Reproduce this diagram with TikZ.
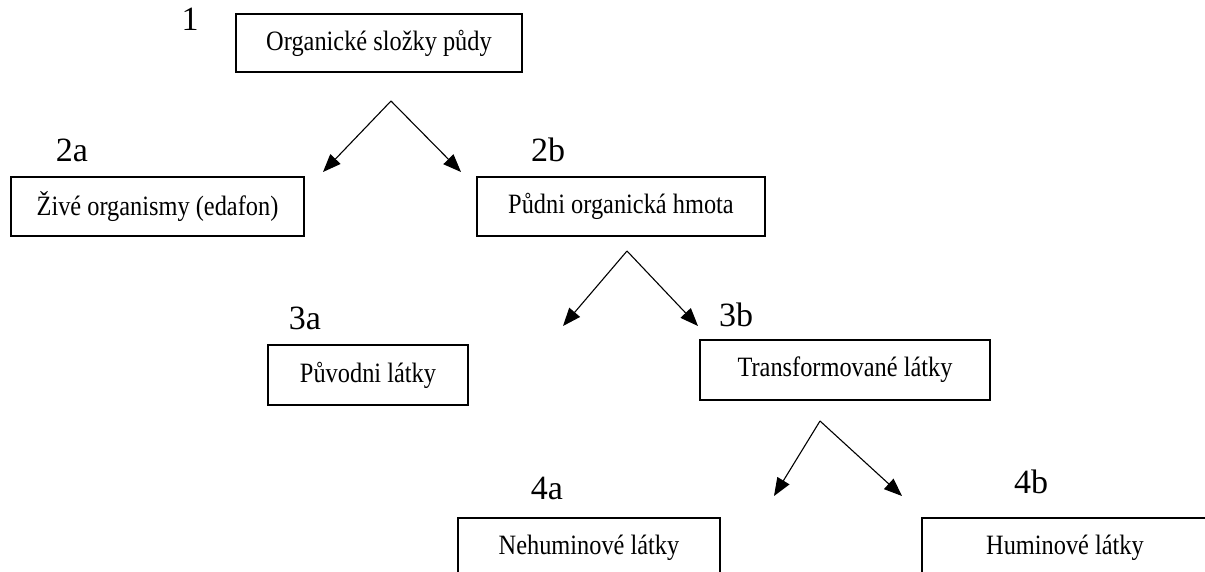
\documentclass[tikz,border=0pt]{standalone}
\usepackage{fontspec}
\usepackage{graphicx}
\setmainfont{Liberation Serif}
\usetikzlibrary{arrows.meta}
\newcommand{\cond}[1]{\scalebox{0.87}[1]{#1}}
\tikzset{
  box/.style={draw=black, line width=1.8pt, rectangle, inner sep=0pt, font=\fontsize{28}{32}\selectfont},
  lbl/.style={font=\fontsize{34}{38}\selectfont, inner sep=0pt},
  arr/.style={line width=1.1pt, -{Triangle[length=18pt,width=14pt]}}
}
\begin{document}
\begin{tikzpicture}[x=1pt,y=-1pt]
\useasboundingbox (0,0) rectangle (1205,571);
\clip (0,0) rectangle (1205,571);
% boxes
\node[box, minimum width=286pt, minimum height=58pt] (b1) at (379,43) {\cond{Organické složky půdy}};
\node[box, minimum width=293pt, minimum height=59pt] (b2a) at (157.5,206.5) {\cond{Živé organismy (edafon)}};
\node[box, minimum width=288pt, minimum height=59pt] (b2b) at (621,206.5) {\cond{Půdni organická hmota}};
\node[box, minimum width=200pt, minimum height=60pt] (b3a) at (368,375) {\cond{Původni látky}};
\node[box, minimum width=290pt, minimum height=60pt] (b3b) at (845,370) {\cond{Transformované látky}};
\node[box, minimum width=262pt, minimum height=60pt] (b4a) at (589,548) {\cond{Nehuminové látky}};
\node[box, minimum width=286pt, minimum height=60pt] (b4b) at (1065,548) {\cond{Huminové látky}};
% labels
\node[lbl] (l1) at (190,19) {1};
\node[lbl] (l2a) at (72,150) {2a};
\node[lbl] (l2b) at (548,150) {2b};
\node[lbl] (l3a) at (305,318) {3a};
\node[lbl] (l3b) at (736,315) {3b};
\node[lbl] (l4a) at (547,488) {4a};
\node[lbl] (l4b) at (1031,482) {4b};
% connector points
\coordinate (a1) at (391,101);
\coordinate (t2a) at (323,172);
\coordinate (t2b) at (461,172);
\coordinate (a2) at (627,251);
\coordinate (t3a) at (563,326);
\coordinate (t3b) at (698,326);
\coordinate (a3) at (820,421);
\coordinate (t4a) at (774,496);
\coordinate (t4b) at (902,496);
\draw[arr] (a1) -- (t2a);
\draw[arr] (a1) -- (t2b);
\draw[arr] (a2) -- (t3a);
\draw[arr] (a2) -- (t3b);
\draw[arr] (a3) -- (t4a);
\draw[arr] (a3) -- (t4b);
\end{tikzpicture}
\end{document}
